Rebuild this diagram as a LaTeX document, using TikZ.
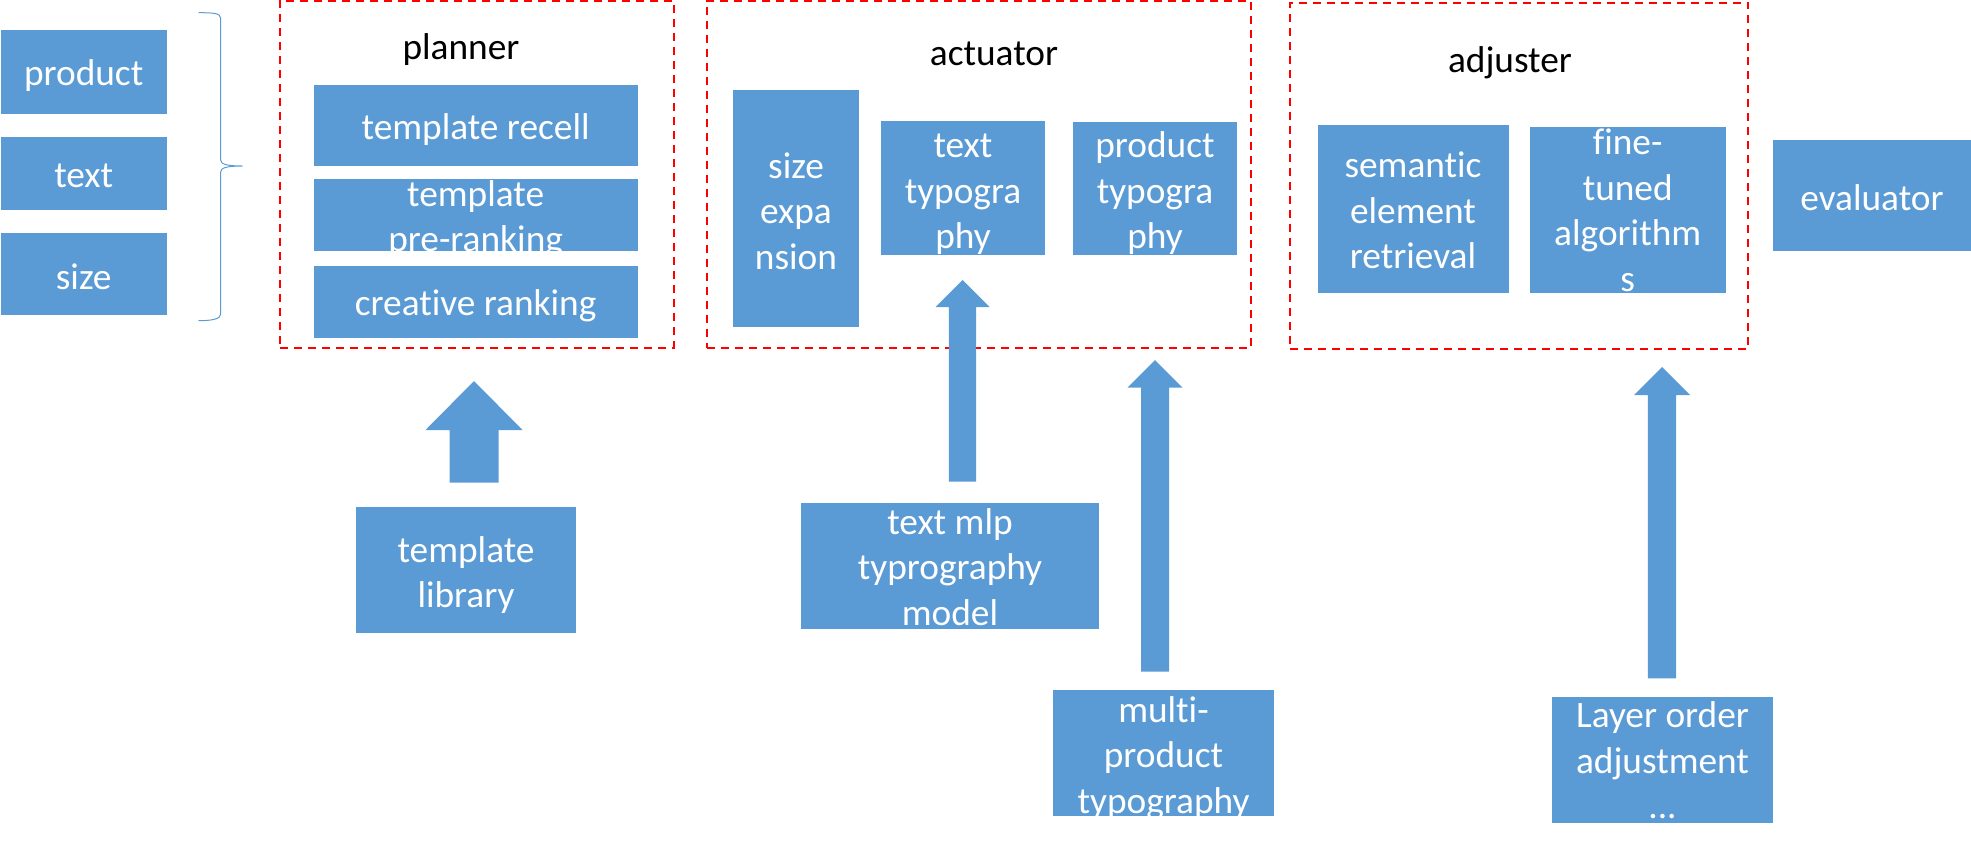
\documentclass[tikz,border=0pt]{standalone}
\usepackage{fontspec}
\setmainfont{Carlito}[RawFeature={-liga}]
\usetikzlibrary{fit,calc}
\definecolor{boxblue}{HTML}{5B9BD5}
\definecolor{dashred}{HTML}{FF0000}
\tikzset{
  bluebox/.style={fill=boxblue, draw=none, inner sep=0pt},
  boxtext/.style={text=white, align=center, inner sep=0pt, yshift=-2.4pt, font=\fontsize{28}{34.1}\selectfont},
  titletext/.style={text=black, inner sep=0pt, yshift=-2.4pt, font=\fontsize{28}{34.1}\selectfont},
  groupbox/.style={draw=dashred, line width=1.5pt, dash pattern=on 6pt off 4.5pt, inner sep=0pt},
  blockarrow/.style={fill=boxblue},
  bracket/.style={draw=boxblue, line width=0.75pt},
}
\newcommand\blockup[5]{%
  \fill[blockarrow] (#1) -- ($(#1)+(#3,#5)$) -- ($(#1)+(#4,#5)$) -- ($(#2)+(#4,0)$)
    -- ($(#2)+(-#4,0)$) -- ($(#1)+(-#4,#5)$) -- ($(#1)+(-#3,#5)$) -- cycle;}
\begin{document}
\begin{tikzpicture}[x=0.75pt,y=-0.75pt]
\useasboundingbox (0,0) rectangle (1971,851);

% inputs
\node[bluebox, fit={(1,30) (166.5,113.7)}] (product) {};
\node[boxtext] (productT) at (83.7,73) {\strut product};
\node[bluebox, fit={(1,137) (166.5,209.7)}] (text) {};
\node[boxtext] (textT) at (83.7,175) {\strut text};
\node[bluebox, fit={(1,233) (166.5,314.7)}] (size) {};
\node[boxtext] (sizeT) at (83.7,276.7) {\strut size};

% brace
\draw[bracket] (198.5,12.7) .. controls (212,12.7) and (220.7,13) .. (220.7,18)
  -- (220.7,160) .. controls (220.7,164) and (226,166) .. (242.5,166)
  .. controls (226,166) and (220.7,168) .. (220.7,172)
  -- (220.7,314) .. controls (220.7,319) and (212,320.7) .. (198.5,320.7);

% planner
\node[groupbox, fit={(280,0.7) (673.7,347.7)}] (planner) {};
\node[titletext] (plannerT) at (461,47) {\strut planner};
\node[bluebox, fit={(313.8,85.3) (637.5,165.7)}] (recall) {};
\node[boxtext] (recallT) at (475.6,126.7) {\strut template recell};
\node[bluebox, fit={(313.8,179) (637.5,250.7)}] (prerank) {};
\node[boxtext] (prerankT) at (475.6,216.5) {\strut template\\\strut pre-ranking};
\node[bluebox, fit={(313.8,266) (637.5,337.7)}] (creative) {};
\node[boxtext] (creativeT) at (475.6,303.3) {\strut creative ranking};

% actuator
\node[groupbox, fit={(706.7,0.7) (1250.9,347.7)}] (actuator) {};
\node[titletext] (actuatorT) at (994,53) {\strut actuator};
\node[bluebox, fit={(733,90) (859,326.7)}] (sizeexp) {};
\node[boxtext] (sizeexpT) at (796,211.4) {\strut size\\\strut expa\\\strut nsion};
\node[bluebox, fit={(880.8,121) (1045,255)}] (texttypo) {};
\node[boxtext] (texttypoT) at (963,191) {\strut text\\\strut typogra\\\strut phy};
\node[bluebox, fit={(1073,122) (1237,255)}] (prodtypo) {};
\node[boxtext] (prodtypoT) at (1155,191) {\strut product\\\strut typogra\\\strut phy};

% adjuster
\node[groupbox, fit={(1289.75,2.7) (1748.2,348.7)}] (adjuster) {};
\node[titletext] (adjusterT) at (1510,60) {\strut adjuster};
\node[bluebox, fit={(1317.9,125.3) (1508.5,292.7)}] (semantic) {};
\node[boxtext] (semanticT) at (1413,211) {\strut semantic\\\strut element\\\strut retrieval};
\node[bluebox, fit={(1529.9,127) (1725.5,292.7)}] (finetuned) {};
\node[boxtext] (finetunedT) at (1627.7,210.75) {\strut fine-\\\strut tuned\\\strut algorithm\\\strut s};

% evaluator
\node[bluebox, fit={(1772.8,140) (1971,250.7)}] (evaluator) {};
\node[boxtext] (evaluatorT) at (1872,198) {\strut evaluator};

% bottom sources
\node[bluebox, fit={(356,507) (576,632.7)}] (library) {};
\node[boxtext] (libraryT) at (466,572.5) {\strut template\\\strut library};
\node[bluebox, fit={(801,503) (1099,628.7)}] (mlp) {};
\node[boxtext] (mlpT) at (950,567.5) {\strut text mlp\\\strut typrography\\\strut model};
\node[bluebox, fit={(1053,690) (1274,815.7)}] (multi) {};
\node[boxtext] (multiT) at (1163.5,755.6) {\strut multi-\\\strut product\\\strut typography};
\node[bluebox, fit={(1552,696.7) (1773,822.7)}] (layer) {};
\node[boxtext] (layerT) at (1662.5,761) {\strut Layer order\\\strut adjustment\\\strut ...};

% block arrows
\coordinate (a1tip) at (474,381);    \coordinate (a1tail) at (474,482.7);
\coordinate (a2tip) at (962.5,280);  \coordinate (a2tail) at (962.5,481.7);
\coordinate (a3tip) at (1155,360);   \coordinate (a3tail) at (1155,671.7);
\coordinate (a4tip) at (1662,367);   \coordinate (a4tail) at (1662,678.3);
\blockup{a1tip}{a1tail}{48.5}{24.5}{49}
\blockup{a2tip}{a2tail}{27}{13.6}{27}
\blockup{a3tip}{a3tail}{27.5}{14}{27.7}
\blockup{a4tip}{a4tail}{28}{14.2}{28}
\end{tikzpicture}
\end{document}
